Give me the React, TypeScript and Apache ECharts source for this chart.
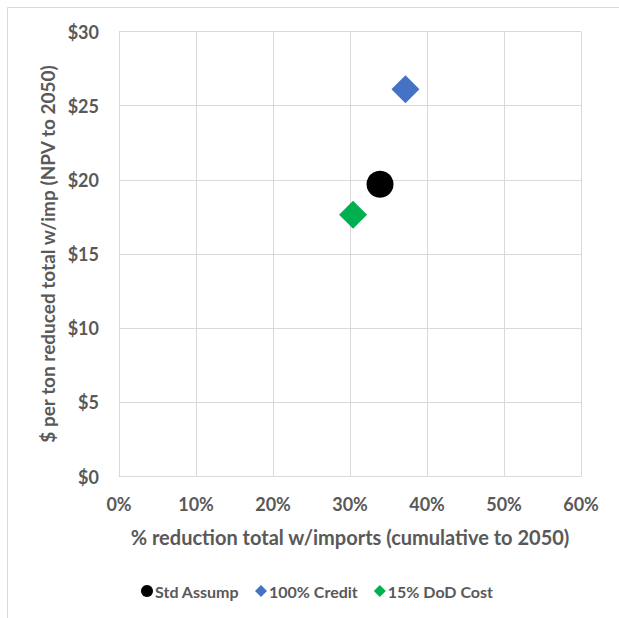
import React, { useEffect, useRef } from "react";
import * as echarts from "echarts";

const seriesNames = ["Std Assump", "100% Credit", "15% DoD Cost"];
const seriesColors = ["#000000", "#4472C4", "#00B050"];
const seriesSymbols = ["circle", "diamond", "diamond"];
const reductionPct = [33.9, 37.2, 30.4];
const costPerTon = [19.7, 26.1, 17.65];
const xTicks = [0, 10, 20, 30, 40, 50, 60];
const yTicks = [0, 5, 10, 15, 20, 25, 30];

const FONT = "Lato, 'Open Sans', sans-serif";
const GRAY = "#595959";

export default function App() {
  const ref = useRef<HTMLDivElement>(null);
  useEffect(() => {
    if (!ref.current) return;
    const chart = echarts.init(ref.current, undefined, { renderer: "svg" });
    chart.setOption({
      animation: false,
      backgroundColor: "#ffffff",
      textStyle: { fontFamily: FONT },
      graphic: [
        {
          type: "rect",
          shape: { x: 7.5, y: 7.5, width: 640, height: 640 },
          style: { fill: "none", stroke: "#D9D9D9", lineWidth: 1 },
          z: -1,
        },
      ],
      grid: { left: 119, top: 31.5, width: 462, height: 445 },
      xAxis: {
        type: "value",
        min: xTicks[0],
        max: xTicks[xTicks.length - 1],
        interval: 10,
        name: "% reduction total w/imports (cumulative to 2050)",
        nameLocation: "middle",
        nameGap: 50,
        nameTextStyle: { fontSize: 20, fontWeight: "bold", color: GRAY, fontFamily: FONT },
        axisLine: { show: true, lineStyle: { color: "#D9D9D9" } },
        axisTick: { show: false },
        splitLine: { show: true, lineStyle: { color: "#D9D9D9" } },
        axisLabel: {
          formatter: (v: number) => `${v}%`,
          fontSize: 18,
          fontWeight: "bold",
          color: GRAY,
          margin: 18,
          fontFamily: FONT,
        },
      },
      yAxis: {
        type: "value",
        min: yTicks[0],
        max: yTicks[yTicks.length - 1],
        interval: 5,
        name: "$ per ton reduced total w/imp (NPV to 2050)",
        nameLocation: "middle",
        nameGap: 62,
        nameTextStyle: { fontSize: 19, fontWeight: "bold", color: GRAY, fontFamily: FONT },
        axisLine: { show: true, lineStyle: { color: "#D9D9D9" } },
        axisTick: { show: false },
        splitLine: { show: true, lineStyle: { color: "#D9D9D9" } },
        axisLabel: {
          formatter: (v: number) => `$${v}`,
          fontSize: 18,
          fontWeight: "bold",
          color: GRAY,
          margin: 20,
          fontFamily: FONT,
        },
      },
      legend: {
        top: 578,
        left: 136,
        itemWidth: 12,
        itemHeight: 12,
        itemGap: 16,
        textStyle: { fontSize: 16, fontWeight: "bold", color: GRAY, fontFamily: FONT, padding: [0, 0, 0, -3] },
        data: seriesNames.map((n, i) => ({ name: n, icon: seriesSymbols[i] })),
      },
      series: seriesNames.map((n, i) => ({
        name: n,
        type: "scatter",
        symbol: seriesSymbols[i],
        symbolSize: i === 0 ? 27 : 28,
        itemStyle: { color: seriesColors[i], opacity: 1 },
        data: [[reductionPct[i], costPerTon[i]]],
      })),
    });
    return () => chart.dispose();
  }, []);
  return (
    <div
      ref={ref}
      style={{ position: "absolute", left: 0, top: 0, width: 619, height: 618 }}
    />
  );
}
